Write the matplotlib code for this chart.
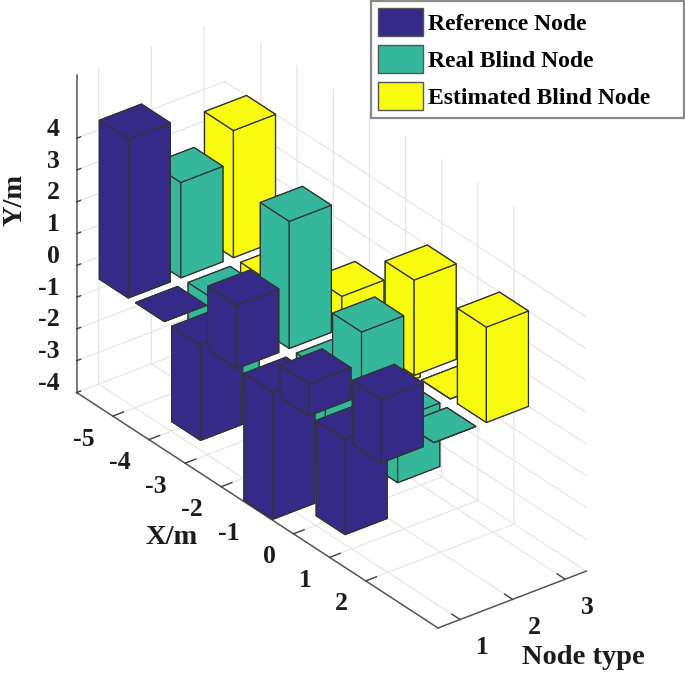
import numpy as np
import matplotlib
matplotlib.use("Agg")
import matplotlib.pyplot as plt
from matplotlib.patches import Patch
from matplotlib.transforms import Affine2D
from mpl_toolkits.mplot3d import proj3d

x_positions = [-5, -4, -3, -2, -1, 0, 1, 2]
node_types = [1, 2, 3]
reference_node = [5, 0, -3, 2, -4, 1, -3, 2]
real_blind_node = [3, -3, 0, 4, -3, 2, -2, 0]
estimated_blind_node = [4, -2, 0, 1, -1.3, 3, 0, 3]
series_names = ["Reference Node", "Real Blind Node", "Estimated Blind Node"]
series_colors = ["#352a87", "#35b79b", "#f9fb0e"]
z_ticks = [-4, -3, -2, -1, 0, 1, 2, 3, 4]

W, H = 685, 673
plt.rcParams["font.family"] = ["Liberation Serif", "DejaVu Serif"]
plt.rcParams["font.weight"] = "bold"
plt.rcParams["axes.unicode_minus"] = False
plt.rcParams["grid.color"] = "#e6e6e6"
plt.rcParams["grid.linewidth"] = 0.9

fig = plt.figure(figsize=(W / 100, H / 100), dpi=100, facecolor="white")
ax = fig.add_axes([0, 0, 1, 1], projection="3d", computed_zorder=False)
ax.patch.set_alpha(0)

xlim, ylim, zlim = (-6, 4), (0.58, 3.4), (-4, 6)
ax.set_proj_type("ortho")
ax.view_init(elev=30, azim=-37.5)

series = [reference_node, real_blind_node, estimated_blind_node]
width = 0.8
order = 2
for i, xv in enumerate(x_positions):
    for j in reversed(range(len(node_types))):
        ax.bar3d(xv - width / 2, node_types[j] - width / 2, 0, width, width,
                 series[j][i], color=series_colors[j], edgecolor="#333333",
                 linewidth=0.9, shade=False, zorder=order)
        order += 1

ax.set_xlim(*xlim, view_margin=0)
ax.set_ylim(*ylim, view_margin=0)
ax.set_zlim(*zlim, view_margin=0)
ax.set_box_aspect((59.3 * (xlim[1] - xlim[0]), 66.2 * (ylim[1] - ylim[0]),
                   36.66 * (zlim[1] - zlim[0])))

ax.set_xticks(x_positions)
ax.set_yticks(node_types)
ax.set_zticks(z_ticks)
ax.tick_params(labelsize=18.5, colors="#1c1c1c", pad=0)
ax.zaxis.set_ticks_position("lower")
ax.zaxis.set_label_position("lower")
tick_color = "#444444"
for axis, factor in ((ax.xaxis, 0.9), (ax.yaxis, 0.28), (ax.zaxis, 0.33)):
    axis.set_pane_color((1, 1, 1, 0))
    axis.pane.set_edgecolor("none")
    axis.line.set_color("#555555")
    axis.line.set_linewidth(1.1)
    axis._axinfo["tick"]["outward_factor"] = factor
    axis._axinfo["tick"]["inward_factor"] = 0
    axis._axinfo["tick"]["linewidth"] = {True: 1.0, False: 0.5}
    axis.set_rotate_label(False)
    for t in axis.get_major_ticks():
        t.tick1line.set_color(tick_color)
        t.label1.set_fontweight("bold")

ax.set_xlabel("X/m", fontsize=20.5, fontweight="bold", color="#1c1c1c")
ax.set_ylabel("Node type", fontsize=20.5, fontweight="bold", color="#1c1c1c")
ax.set_zlabel("Y/m", fontsize=20.5, fontweight="bold", color="#1c1c1c", rotation=90)


def px(x, y, z):
    u, v, _ = proj3d.proj_transform(x, y, z, ax.get_proj())
    return ax.transData.transform((u, v))


# fit the box onto the reference's pixel frame
size = float(W)
left, bottom = 0.0, 0.0
target_corner = np.array([438.0, H - 628.0])
target_span = np.hypot(361.0, 236.0)
for _ in range(3):
    ax.set_position([left / W, bottom / H, size / W, size / H])
    ax.apply_aspect()
    a = px(xlim[1], ylim[0], zlim[0])
    b = px(xlim[0], ylim[0], zlim[0])
    size *= target_span / np.hypot(*(a - b))
    ax.set_position([left / W, bottom / H, size / W, size / H])
    ax.apply_aspect()
    a = px(xlim[1], ylim[0], zlim[0])
    left += target_corner[0] - a[0]
    bottom += target_corner[1] - a[1]
ax.set_position([left / W, bottom / H, size / W, size / H])

fig.canvas.draw()


def nudge(text, target, ha="center"):
    # the 3D axis resets text transforms while drawing, so the shift is kept on the text
    native = ax.transData.transform(text.get_position())
    d = np.asarray(target, float) - native
    text.set_ha(ha)
    text.set_va("center")
    shifted = ax.transData + Affine2D().translate(*d)
    text.get_transform = lambda: shifted


for t, xv in zip(ax.xaxis.get_major_ticks(), x_positions):
    base = px(xv, ylim[0], zlim[0])
    nudge(t.label1, base + (-18, -23), ha="right")
for t, yv in zip(ax.yaxis.get_major_ticks(), node_types):
    base = px(xlim[1], yv, zlim[0])
    nudge(t.label1, base + (22, -28))
for t, zv in zip(ax.zaxis.get_major_ticks(), z_ticks):
    base = px(xlim[0], ylim[0], zv)
    nudge(t.label1, base + (-17, 9), ha="right")

nudge(ax.xaxis.label, (172, H - 537))
nudge(ax.yaxis.label, (583, H - 657))
nudge(ax.zaxis.label, (15, H - 200))

handles = [Patch(facecolor=c, edgecolor="#555555", linewidth=1.0) for c in series_colors]
fs = 17.0
em = fs * 100 / 72
leg = fig.legend(handles, series_names, loc="upper left", mode="expand",
                 bbox_to_anchor=(370.5 / W, 1 - 0.5 / H, 313.5 / W, 0),
                 bbox_transform=fig.transFigure,
                 borderaxespad=0, fancybox=False, framealpha=1, edgecolor="#8a8a8a",
                 prop={"family": "Liberation Serif", "weight": "bold", "size": fs},
                 handlelength=45 / em, handleheight=1.45, labelspacing=0.38,
                 borderpad=0.33, handletextpad=5 / em)
leg.get_frame().set_linewidth(1.6)

fig.savefig("out.png", dpi=100, facecolor="white")
